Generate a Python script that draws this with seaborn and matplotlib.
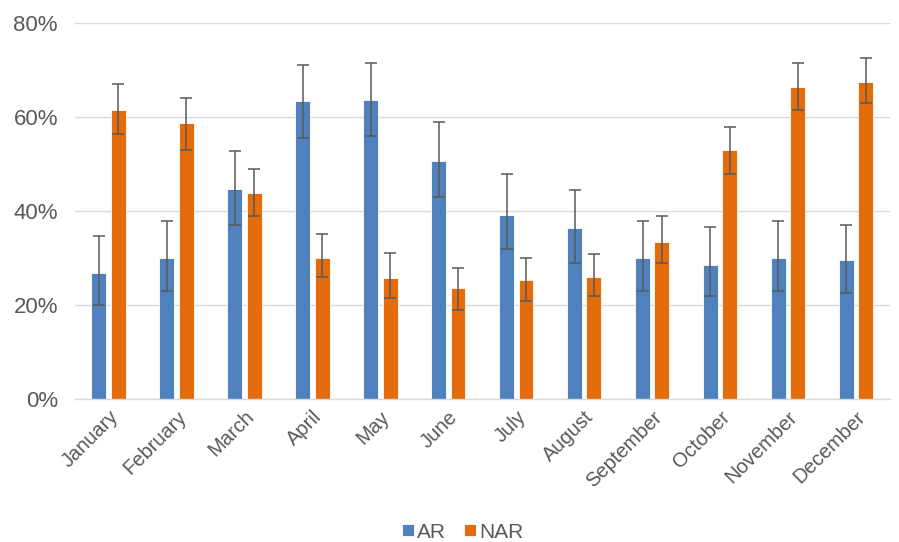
import numpy as np
import pandas as pd
import matplotlib
matplotlib.use("Agg")
import matplotlib.pyplot as plt
import seaborn as sns
from matplotlib.ticker import PercentFormatter

months = ["January", "February", "March", "April", "May", "June",
          "July", "August", "September", "October", "November", "December"]

# valori in percentuale
ar = [26.8, 29.9, 44.6, 63.4, 63.6, 50.5, 39.2, 36.4, 29.9, 28.5, 29.9, 29.5]
ar_low = [19.9, 23.0, 36.9, 55.4, 55.9, 42.9, 31.9, 28.9, 22.9, 21.9, 22.9, 22.5]
ar_high = [34.6, 37.9, 52.7, 71.0, 71.5, 58.9, 47.9, 44.4, 37.9, 36.5, 37.9, 36.9]

nar = [61.4, 58.7, 43.8, 30.0, 25.7, 23.5, 25.2, 26.0, 33.4, 52.9, 66.4, 67.5]
nar_low = [56.4, 52.9, 38.9, 25.9, 21.4, 18.9, 20.9, 21.9, 28.9, 47.9, 61.5, 63.0]
nar_high = [67.0, 63.9, 48.9, 35.0, 31.0, 27.9, 29.9, 30.9, 38.9, 57.9, 71.5, 72.6]

groups = ["AR", "NAR"]
colori = {"AR": "#4F81BD", "NAR": "#E46C0A"}

df = pd.DataFrame({
    "Month": months * 2,
    "Group": ["AR"] * 12 + ["NAR"] * 12,
    "Value": ar + nar,
})

sns.set_style("white")
plt.rcParams["font.family"] = ["Liberation Sans", "DejaVu Sans"]

fig = plt.figure(figsize=(8.99, 5.42), dpi=100)
ax = fig.add_axes([0.083, 0.264, 0.907, 0.694])

sns.barplot(data=df, x="Month", y="Value", hue="Group", order=months,
            hue_order=groups, palette=colori, errorbar=None, saturation=1,
            width=0.57, gap=0.23, edgecolor="white", linewidth=0.6, ax=ax)

# barre di errore sopra ogni rettangolo
err = {"AR": (ar, ar_low, ar_high), "NAR": (nar, nar_low, nar_high)}
for cont, g in zip(ax.containers, groups):
    vals, lo, hi = err[g]
    xs = [p.get_x() + p.get_width() / 2 for p in cont.patches]
    yerr = [np.array(vals) - np.array(lo), np.array(hi) - np.array(vals)]
    ax.errorbar(xs, vals, yerr=yerr, fmt="none", ecolor="#595959",
                elinewidth=1.1, capsize=4, capthick=1.1, zorder=5)

ax.set_ylim(0, 80)
ax.set_xlim(-0.5, 11.5)
ax.set_yticks([0, 20, 40, 60, 80])
ax.yaxis.set_major_formatter(PercentFormatter(decimals=0))
ax.grid(axis="y", color="#D9D9D9", linewidth=1)
ax.set_axisbelow(True)

for s in ["top", "right", "left"]:
    ax.spines[s].set_visible(False)
ax.spines["bottom"].set_color("#D9D9D9")
ax.spines["bottom"].set_linewidth(1)

ax.set_xlabel("")
ax.set_ylabel("")
ax.tick_params(axis="both", length=0, colors="#595959")
ax.tick_params(axis="y", labelsize=16, pad=12)
ax.tick_params(axis="x", labelsize=14.5, pad=6)
plt.setp(ax.get_xticklabels(), rotation=45, ha="right", rotation_mode="anchor")

ax.legend(loc="center", bbox_to_anchor=(0.476, -0.354), ncol=2,
          frameon=False, fontsize=15, handlelength=0.55, handleheight=0.55,
          handletextpad=0.15, columnspacing=0.9, labelcolor="#595959")

fig.savefig("out.png", dpi=100)
